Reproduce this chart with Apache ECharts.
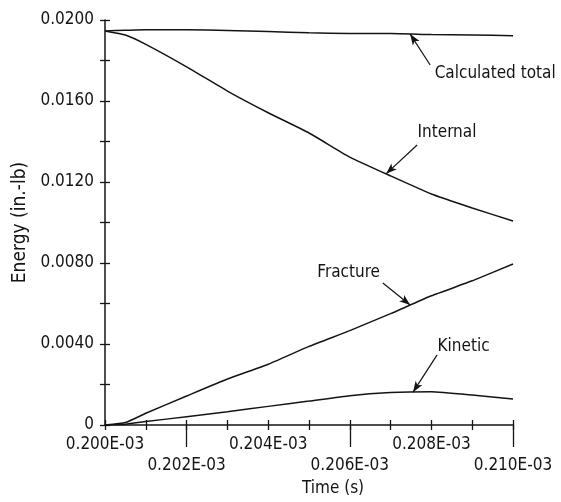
<!DOCTYPE html>
<html>
<head>
<meta charset="utf-8">
<script src="https://cdn.jsdelivr.net/npm/echarts@6/dist/echarts.min.js"></script>
<style>
  html, body { margin: 0; padding: 0; background: #fff; }
  #chart { width: 561px; height: 502px; }
</style>
</head>
<body>
<div id="chart"></div>
<script>
// Time samples in microseconds; the axis prints them as "0.xxxE-03" seconds.
const timeUs = [200, 200.5, 201, 202, 203, 204, 205, 206, 207, 208, 209, 210];

// Energies in in.-lb
const totalEnergy    = [0.01946, 0.01949, 0.01952, 0.01952, 0.01948, 0.01943, 0.01937, 0.01933, 0.01933, 0.01928, 0.01926, 0.01922];
const internalEnergy = [0.01946, 0.01926, 0.01880, 0.01769, 0.01649, 0.01542, 0.01442, 0.01323, 0.01230, 0.01141, 0.01072, 0.01007];
const fractureEnergy = [0.00000, 0.00012, 0.00058, 0.00143, 0.00227, 0.00300, 0.00388, 0.00466, 0.00550, 0.00638, 0.00712, 0.00795];
const kineticEnergy  = [0.00000, 0.00004, 0.00017, 0.00041, 0.00065, 0.00092, 0.00118, 0.00145, 0.00160, 0.00164, 0.00148, 0.00128];

// Tick labels: the time labels alternate between two rows
const xUpperRowLabels = [200, 204, 208];
const xLowerRowLabels = [202, 206, 210];
const xAxisMin = 200, xAxisMax = 210, xTickStep = 1;
const yAxisMin = 0, yAxisMax = 0.02, yLabelStep = 0.004;

// Curve names and the time where each callout arrow touches its curve
const curveNames = ['Calculated total', 'Internal', 'Fracture', 'Kinetic'];
const arrowTipTime = [207.48, 206.89, 207.48, 207.55];

const FONT = "'DejaVu Sans Condensed', 'DejaVu Sans', sans-serif";
const INK = '#141414';

const curves = [totalEnergy, internalEnergy, fractureEnergy, kineticEnergy];

// arrow tail and text anchor for each callout, in axis units
const calloutLayout = [
  { tail: [207.97, 0.01778], text: [208.08, 0.01735], side: 'right' },
  { tail: [207.65, 0.01383], text: [207.66, 0.01442], side: 'right' },
  { tail: [206.81, 0.00701], text: [206.74, 0.00751], side: 'left' },
  { tail: [208.14, 0.00346], text: [208.15, 0.00385], side: 'right' }
];

function valueAt(values, t) {
  for (let i = 0; i < timeUs.length - 1; i++) {
    if (t >= timeUs[i] && t <= timeUs[i + 1]) {
      const f = (t - timeUs[i]) / (timeUs[i + 1] - timeUs[i]);
      return values[i] + f * (values[i + 1] - values[i]);
    }
  }
  return values[values.length - 1];
}

function timeLabel(v) {
  return (v / 1000).toFixed(3) + 'E-03';
}

const series = curves.map((values, k) => {
  const lay = calloutLayout[k];
  const tipT = arrowTipTime[k];
  return {
    name: curveNames[k],
    type: 'line',
    xAxisIndex: 0,
    yAxisIndex: 0,
    data: timeUs.map((t, i) => [t, values[i]]),
    symbol: 'none',
    smooth: 0.15,
    lineStyle: { color: INK, width: 1.5 },
    silent: true,
    markLine: {
      silent: true,
      symbol: ['none', 'arrow'],
      symbolSize: [6, 11],
      label: { show: false },
      lineStyle: { color: INK, width: 1.2, type: 'solid' },
      data: [[{ coord: lay.tail }, { coord: [tipT, valueAt(values, tipT)] }]]
    },
    markPoint: {
      silent: true,
      symbol: 'circle',
      symbolSize: 0,
      data: [{ coord: lay.text }],
      label: {
        show: true,
        formatter: curveNames[k],
        position: lay.side,
        distance: 0,
        color: INK,
        fontFamily: FONT,
        fontSize: 17
      }
    }
  };
});

const baseX = {
  type: 'value',
  min: xAxisMin,
  max: xAxisMax,
  interval: xTickStep,
  position: 'bottom',
  splitLine: { show: false }
};
const baseY = {
  type: 'value',
  min: yAxisMin,
  max: yAxisMax,
  interval: yLabelStep,
  position: 'left',
  splitLine: { show: false }
};

const option = {
  animation: false,
  backgroundColor: '#fff',
  grid: { left: 105, right: 48, top: 20, bottom: 77 },
  xAxis: [
    Object.assign({}, baseX, {
      axisLine: { show: true, lineStyle: { color: INK, width: 1.5 } },
      axisTick: { show: true, length: 5, lineStyle: { color: INK, width: 1.3 } },
      axisLabel: {
        show: true, customValues: xUpperRowLabels, margin: 11,
        formatter: timeLabel, color: INK, fontFamily: FONT, fontSize: 17
      },
      name: 'Time (s)',
      nameLocation: 'middle',
      nameGap: 55,
      nameTextStyle: { color: INK, fontFamily: FONT, fontSize: 17, padding: [0, 0, 0, 48] }
    }),
    Object.assign({}, baseX, {
      axisLine: { show: false },
      axisTick: { show: true, inside: true, length: 5, lineStyle: { color: INK, width: 1.3 } },
      axisLabel: { show: false }
    }),
    Object.assign({}, baseX, {
      axisLine: { show: false },
      axisTick: { show: true, customValues: xLowerRowLabels, length: 22, lineStyle: { color: INK, width: 1.3 } },
      axisLabel: {
        show: true, customValues: xLowerRowLabels, margin: 32,
        formatter: timeLabel, color: INK, fontFamily: FONT, fontSize: 17
      }
    })
  ],
  yAxis: [
    Object.assign({}, baseY, {
      axisLine: { show: true, lineStyle: { color: INK, width: 1.5 } },
      axisTick: { show: true, length: 5, lineStyle: { color: INK, width: 1.3 } },
      minorTick: { show: true, splitNumber: 2, length: 5, lineStyle: { color: INK, width: 1.3 } },
      axisLabel: {
        show: true, margin: 11,
        formatter: v => (v === 0 ? '0' : v.toFixed(4)),
        color: INK, fontFamily: FONT, fontSize: 17
      },
      name: 'Energy (in.-lb)',
      nameLocation: 'middle',
      nameGap: 75,
      nameTextStyle: { color: INK, fontFamily: FONT, fontSize: 19 }
    }),
    Object.assign({}, baseY, {
      axisLine: { show: false },
      axisTick: { show: true, inside: true, length: 5, lineStyle: { color: INK, width: 1.3 } },
      minorTick: { show: true, splitNumber: 2, length: 5, lineStyle: { color: INK, width: 1.3 } },
      axisLabel: { show: false }
    })
  ],
  series: series
};

const chart = echarts.init(document.getElementById('chart'), null, { renderer: 'canvas' });
chart.setOption(option);
</script>
</body>
</html>
